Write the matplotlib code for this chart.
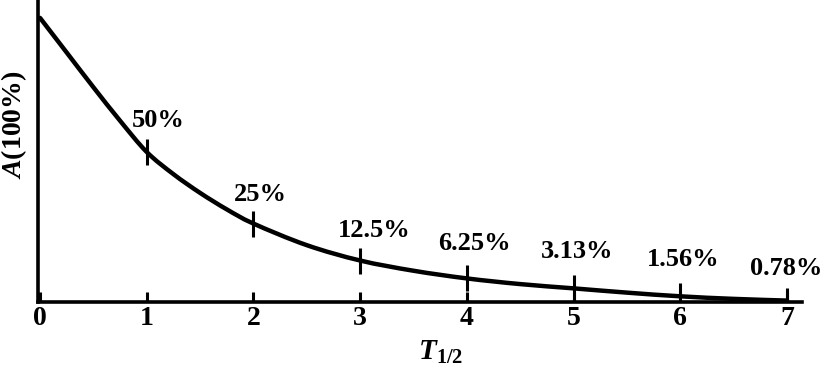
import matplotlib
matplotlib.use("Agg")
import matplotlib.pyplot as plt
from matplotlib.path import Path
from matplotlib.patches import PathPatch
import numpy as np

# ---- data ----
curve_x = [0, 0.25, 0.5, 0.75, 1, 1.25, 1.5, 1.75, 2, 2.5, 3, 3.5, 4, 4.5, 5, 5.5, 6, 6.5, 7]
curve_y = [100, 87.8, 75.6, 63.8, 52.8, 45.0, 38.4, 32.6, 27.6, 20.0, 14.6, 11.0, 8.3, 6.3, 4.8, 3.3, 2.0, 1.1, 0.5]
half_lives = [1, 2, 3, 4, 5, 6, 7]
remaining_labels = ["50%", "25%", "12.5%", "6.25%", "3.13%", "1.56%", "0.78%"]
xtick_values = [0, 1, 2, 3, 4, 5, 6, 7]
xtick_labels = ["0", "1", "2", "3", "4", "5", "6", "7"]

# ---- style / layout ----
label_offsets_px = [(12, 31), (7, 29), (14, 30), (8, 35), (4, 37), (3, 37), (-1, 32)]
FONT = "Liberation Serif"
plt.rcParams["mathtext.fontset"] = "custom"
plt.rcParams["mathtext.bfit"] = "Liberation Serif:bold:italic"
plt.rcParams["mathtext.bf"] = "Liberation Serif:bold"
plt.rcParams["mathtext.rm"] = "Liberation Serif"

fig = plt.figure(figsize=(8.28, 3.68), dpi=100)
ax = fig.add_axes([38 / 828, 66 / 368, 764 / 828, 302 / 368])
ax.set_xlim(-0.019, 7.14)
ax.set_ylim(0, 106.3)

# smooth curve through the read points (Catmull-Rom -> cubic Bezier, drawn by matplotlib's Path)
P = np.column_stack([curve_x, curve_y]).astype(float)
verts = [tuple(P[0])]
codes = [Path.MOVETO]
n = len(P)
for i in range(n - 1):
    p0 = P[i - 1] if i > 0 else P[i]
    p1 = P[i]
    p2 = P[i + 1]
    p3 = P[i + 2] if i + 2 < n else P[i + 1]
    c1 = p1 + (p2 - p0) / 6.0
    c2 = p2 - (p3 - p1) / 6.0
    verts += [tuple(c1), tuple(c2), tuple(p2)]
    codes += [Path.CURVE4] * 3
ax.add_patch(PathPatch(Path(verts, codes), facecolor="none", edgecolor="black",
                       lw=3.2, capstyle="round", joinstyle="round", zorder=3,
                       clip_on=False))

# vertical marks on the curve at each half-life
lookup = dict(zip(curve_x, curve_y))
mark_y = [lookup[h] for h in half_lives]
ax.plot(half_lives, mark_y, linestyle="none", marker="|", ms=19, mew=2.2,
        color="black", zorder=4)

for h, yv, txt, off in zip(half_lives, mark_y, remaining_labels, label_offsets_px):
    ax.annotate(txt, (h, yv), xytext=off, textcoords="offset pixels",
                ha="center", va="center", fontsize=19, fontweight="bold",
                family=FONT)

# axes styling
for s in ["top", "right"]:
    ax.spines[s].set_visible(False)
for s in ["left", "bottom"]:
    ax.spines[s].set_linewidth(2.6)
ax.set_yticks([])
ax.set_xticks(xtick_values)
ax.set_xticklabels(xtick_labels, fontsize=20, fontweight="bold", family=FONT)
ax.tick_params(axis="x", direction="in", length=7.5, width=2.2, pad=3)

ax.set_xlabel(r"$\mathbfit{T}_{\mathbf{1/2}}$", fontsize=21)
ax.xaxis.set_label_coords(0.527, -0.118)
ax.set_ylabel(r"$\mathbfit{A}$(100%)", fontsize=20, fontweight="bold", family=FONT)
ax.yaxis.set_label_coords(-0.012, 0.586)

fig.savefig("out.png", dpi=100)
